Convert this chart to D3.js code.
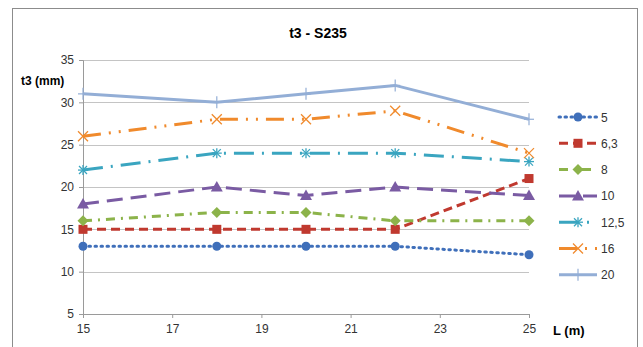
<!DOCTYPE html>
<html>
<head>
<meta charset="utf-8">
<script src="https://cdn.jsdelivr.net/npm/d3@7"></script>
<style>
  body { margin: 0; background: #fff; }
  text { font-family: "Liberation Sans", Arial, sans-serif; }
</style>
</head>
<body>
<div id="chart"></div>
<script>
const lengths = [15, 18, 20, 22, 25];
const seriesNames = ["5", "6,3", "8", "10", "12,5", "16", "20"];
const t5 = [13, 13, 13, 13, 12];
const t63 = [15, 15, 15, 15, 21];
const t8 = [16, 17, 17, 16, 16];
const t10 = [18, 20, 19, 20, 19];
const t125 = [22, 24, 24, 24, 23];
const t16 = [26, 28, 28, 29, 24];
const t20 = [31, 30, 31, 32, 28];
const xTicks = [15, 17, 19, 21, 23, 25];
const yTicks = [5, 10, 15, 20, 25, 30, 35];

const values = [t5, t63, t8, t10, t125, t16, t20];
const colors = ["#3f6fba", "#c0392f", "#8cb34a", "#7a5ba3", "#3aa5c0", "#f08a2c", "#93aed6"];
const dashes = ["1.5,4.5", "9,5", "9,6,2,6", "16,8", "20,8,2,8", "18,8,2,8,2,8", null];
const markers = ["circle", "square", "diamond", "triangle", "star", "cross", "plus"];

const width = 643, height = 347;
const margin = {top: 60, left: 83, right: 114, bottom: 33};

const svg = d3.select("#chart").append("svg")
    .attr("width", width)
    .attr("height", height);

svg.append("rect")
    .attr("x", 12.5).attr("y", 8.5)
    .attr("width", 625).attr("height", 350)
    .attr("fill", "#fff")
    .attr("stroke", "#8c8c8c");

const x = d3.scaleLinear().domain([15, 25]).range([margin.left, width - margin.right]);
const y = d3.scaleLinear().domain([5, 35]).range([height - margin.bottom, margin.top]);

// grid
svg.append("g")
    .selectAll("line")
    .data(yTicks.filter(d => d > 5))
    .enter().append("line")
    .attr("x1", x(15)).attr("x2", x(25))
    .attr("y1", d => Math.round(y(d)) + 0.5).attr("y2", d => Math.round(y(d)) + 0.5)
    .attr("stroke", "#c4c4c4");

const yAxis = d3.axisLeft(y).tickValues(yTicks).tickSize(4).tickPadding(5);
const xAxis = d3.axisBottom(x).tickValues(xTicks).tickSize(4).tickPadding(6);

const gy = svg.append("g")
    .attr("transform", `translate(${x(15)},0)`)
    .call(yAxis);
const gx = svg.append("g")
    .attr("transform", `translate(0,${y(5)})`)
    .call(xAxis);

[gx, gy].forEach(g => {
    g.selectAll("path, line").attr("stroke", "#9a9a9a");
    g.selectAll("text").style("font-size", "12px").attr("fill", "#333");
});

svg.append("text")
    .attr("x", 318).attr("y", 38)
    .attr("text-anchor", "middle")
    .style("font-size", "14px").style("font-weight", "bold")
    .text("t3 - S235");

svg.append("text")
    .attr("x", 21).attr("y", 85)
    .style("font-size", "12px").style("font-weight", "bold")
    .text("t3 (mm)");

svg.append("text")
    .attr("x", 553).attr("y", 335)
    .style("font-size", "13px").style("font-weight", "bold")
    .text("L (m)");

function drawMarker(g, type, cx, cy, color) {
    if (type === "circle") {
        g.append("circle").attr("cx", cx).attr("cy", cy).attr("r", 4.5).attr("fill", color);
    } else if (type === "square") {
        g.append("rect").attr("x", cx - 4.5).attr("y", cy - 4.5).attr("width", 9).attr("height", 9).attr("fill", color);
    } else if (type === "diamond") {
        g.append("path").attr("d", `M${cx},${cy - 5.5}L${cx + 5.5},${cy}L${cx},${cy + 5.5}L${cx - 5.5},${cy}Z`).attr("fill", color);
    } else if (type === "triangle") {
        g.append("path").attr("d", `M${cx},${cy - 6}L${cx + 6},${cy + 4.5}L${cx - 6},${cy + 4.5}Z`).attr("fill", color);
    } else if (type === "star") {
        const p = g.append("g").attr("stroke", color).attr("stroke-width", 1.3);
        p.append("line").attr("x1", cx - 5).attr("x2", cx + 5).attr("y1", cy).attr("y2", cy);
        p.append("line").attr("x1", cx).attr("x2", cx).attr("y1", cy - 5).attr("y2", cy + 5);
        p.append("line").attr("x1", cx - 4).attr("x2", cx + 4).attr("y1", cy - 4).attr("y2", cy + 4);
        p.append("line").attr("x1", cx - 4).attr("x2", cx + 4).attr("y1", cy + 4).attr("y2", cy - 4);
    } else if (type === "cross") {
        const p = g.append("g").attr("stroke", color).attr("stroke-width", 1.3);
        p.append("line").attr("x1", cx - 5).attr("x2", cx + 5).attr("y1", cy - 5).attr("y2", cy + 5);
        p.append("line").attr("x1", cx - 5).attr("x2", cx + 5).attr("y1", cy + 5).attr("y2", cy - 5);
    } else if (type === "plus") {
        const p = g.append("g").attr("stroke", color).attr("stroke-width", 1.2);
        p.append("line").attr("x1", cx - 5).attr("x2", cx + 5).attr("y1", cy).attr("y2", cy);
        p.append("line").attr("x1", cx).attr("x2", cx).attr("y1", cy - 6).attr("y2", cy + 6);
    }
}

const line = d3.line()
    .x((d, i) => x(lengths[i]))
    .y(d => y(d));

values.forEach((vals, s) => {
    const g = svg.append("g").attr("class", "series");
    g.append("path")
        .attr("d", line(vals))
        .attr("fill", "none")
        .attr("stroke", colors[s])
        .attr("stroke-width", 3)
        .attr("stroke-linecap", s === 0 ? "round" : "butt")
        .attr("stroke-dasharray", dashes[s]);
    vals.forEach((v, i) => drawMarker(g, markers[s], x(lengths[i]), y(v), colors[s]));
});

// legend
const legend = svg.append("g");
seriesNames.forEach((name, s) => {
    const ly = 117 + s * 26.3;
    const g = legend.append("g");
    g.append("line")
        .attr("x1", 559).attr("x2", 597)
        .attr("y1", ly).attr("y2", ly)
        .attr("stroke", colors[s]).attr("stroke-width", 3)
        .attr("stroke-linecap", s === 0 ? "round" : "butt")
        .attr("stroke-dasharray", dashes[s]);
    drawMarker(g, markers[s], 578, ly, colors[s]);
    g.append("text")
        .attr("x", 601).attr("y", ly + 4.5)
        .style("font-size", "12px").attr("fill", "#333")
        .text(name);
});
</script>
</body>
</html>
